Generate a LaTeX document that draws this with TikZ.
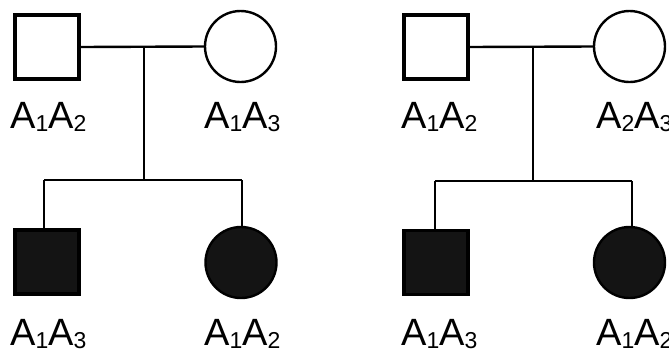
\documentclass[tikz,border=0pt]{standalone}
\usepackage{fontspec}
\setmainfont{Liberation Sans}
\newcommand\gsub[1]{\raisebox{-3pt}{\fontsize{23}{23}\selectfont #1}}
\newcommand\geno[2]{A\gsub{#1}A\gsub{#2}}
\begin{document}
\begin{tikzpicture}[x=1pt,y=-1pt,
  male/.style={draw=black,line width=3.2pt,rectangle,minimum size=64pt,inner sep=0pt},
  female/.style={draw=black,line width=2.4pt,circle,minimum size=71pt,inner sep=0pt},
  aff/.style={fill=black!92},
  gl/.style={anchor=base west,inner sep=0pt,font=\fontsize{38}{40}\selectfont},
  ln/.style={line width=2.4pt}]
\useasboundingbox[fill=white] (0,0) rectangle (669,354);
% left pedigree
\node[male] (f1) at (47,47) {};
\node[female] (m1) at (240.5,46.5) {};
\node[male,aff] (s1) at (47,262) {};
\node[female,aff] (d1) at (241,262.5) {};
\coordinate (j1) at (144,46.5);
\coordinate (b1) at (144,180);
\coordinate (l1) at (44,180);
\coordinate (r1) at (242,180);
\draw[ln] (f1.east) -- (m1.west);
\draw[ln] (j1) -- (b1);
\draw[ln] (l1) -- (r1);
\draw[ln] (l1) -- (l1 |- s1.north);
\draw[ln] (r1) -- (r1 |- d1.north);
\node[gl] (tf1) at (10,128) {\geno12};
\node[gl] (tm1) at (204,128) {\geno13};
\node[gl] (ts1) at (10,345) {\geno13};
\node[gl] (td1) at (204,345) {\geno12};
% right pedigree
\node[male] (f2) at (436,47) {};
\node[female] (m2) at (629.5,46.5) {};
\node[male,aff] (s2) at (436,262.5) {};
\node[female,aff] (d2) at (629.5,262.5) {};
\coordinate (j2) at (533,46.5);
\coordinate (b2) at (533,181);
\coordinate (l2) at (435,181);
\coordinate (r2) at (632,181);
\draw[ln] (f2.east) -- (m2.west);
\draw[ln] (j2) -- (b2);
\draw[ln] (l2) -- (r2);
\draw[ln] (l2) -- (l2 |- s2.north);
\draw[ln] (r2) -- (r2 |- d2.north);
\node[gl] (tf2) at (401,128) {\geno12};
\node[gl] (tm2) at (596,128) {\geno23};
\node[gl] (ts2) at (401,345) {\geno13};
\node[gl] (td2) at (596,345) {\geno12};
\end{tikzpicture}
\end{document}
